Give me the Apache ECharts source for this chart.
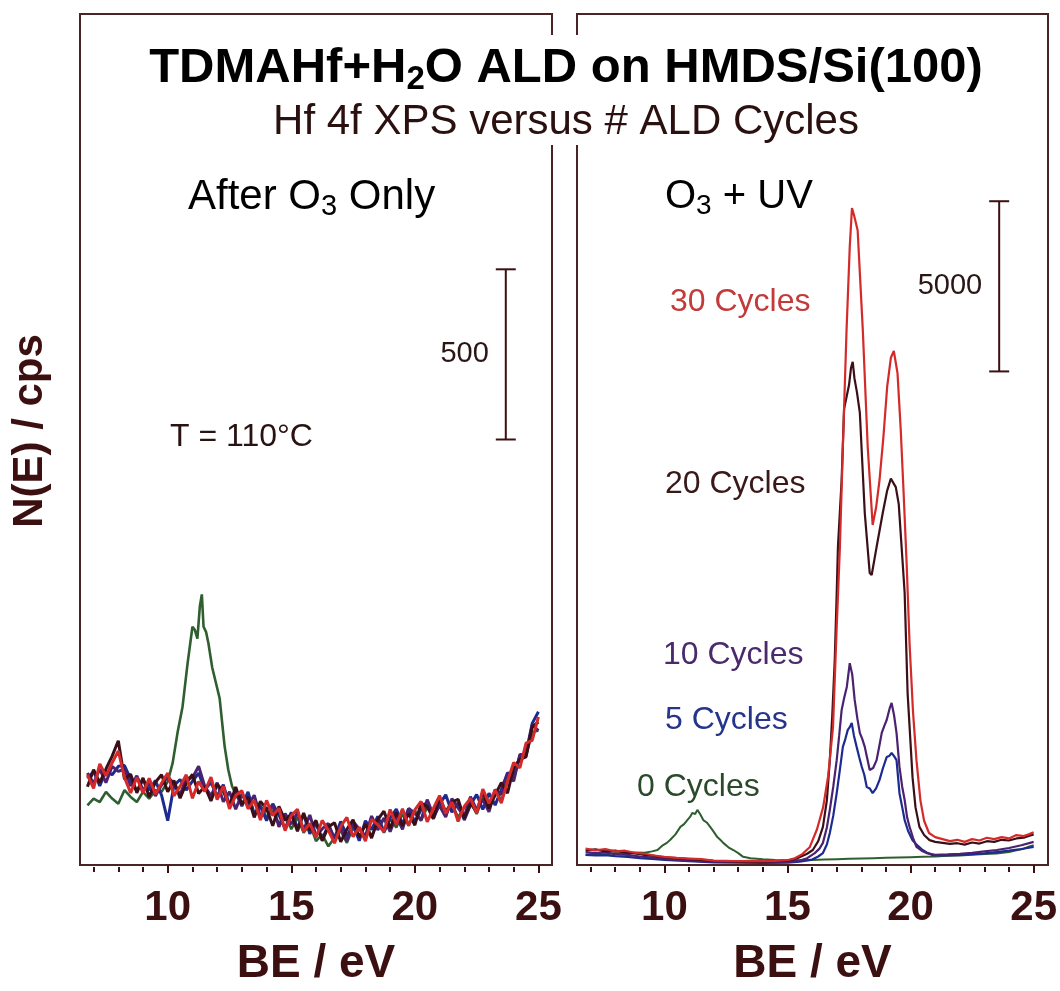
<!DOCTYPE html>
<html><head><meta charset="utf-8">
<script src="https://cdn.jsdelivr.net/npm/echarts@6/dist/echarts.min.js"></script>
<style>html,body{margin:0;padding:0;background:#fff}#c{width:1060px;height:991px}</style>
</head><body><div id="c"></div><script>
// ---------- data ----------
const majorTicks = [10, 15, 20, 25];
const minorTicks = [7, 8, 9, 11, 12, 13, 14, 16, 17, 18, 19, 21, 22, 23, 24];

// Left panel: After O3 only (cps)
const leftX = [6.75,7,7.25,7.5,7.75,8,8.25,8.5,8.75,9,9.25,9.5,9.75,10,10.25,10.5,10.75,11,11.25,11.5,11.75,12,12.25,12.5,12.75,13,13.25,13.5,13.75,14,14.25,14.5,14.75,15,15.25,15.5,15.75,16,16.25,16.5,16.75,17,17.25,17.5,17.75,18,18.25,18.5,18.75,19,19.25,19.5,19.75,20,20.25,20.5,20.75,21,21.25,21.5,21.75,22,22.25,22.5,22.75,23,23.25,23.5,23.75,24,24.25,24.5,24.75,25];
const leftRed = [265,225,297,262,300,335,257,212,257,211,255,208,240,270,203,231,265,196,245,216,258,192,231,165,204,218,165,190,132,190,145,167,101,145,164,98,122,81,131,102,64,113,140,83,111,70,134,118,98,163,119,165,116,162,187,127,166,204,151,185,128,172,196,152,223,181,221,182,246,301,285,358,366,435];
const leftMaroon = [230,280,242,282,320,365,252,267,212,256,200,243,265,215,248,196,240,266,210,231,188,237,216,175,229,178,200,140,187,165,115,172,131,150,99,153,102,131,71,112,124,68,105,133,81,120,79,133,158,108,154,115,151,117,182,172,136,199,156,185,193,137,181,157,213,166,206,242,211,286,310,318,406,420];
const leftPurple = [270,240,282,242,290,275,282,232,262,221,240,203,235,260,238,206,255,256,290,231,203,242,186,215,164,208,175,205,142,165,175,112,151,120,154,103,147,86,106,122,74,108,70,128,106,85,144,103,138,98,144,105,166,152,132,192,146,174,141,195,168,142,201,162,193,156,221,207,266,246,325,323,411,395];
const leftBlue = [255,275,232,277,265,290,292,252,217,251,220,248,205,130,233,251,220,246,270,221,243,202,236,175,214,173,215,150,172,130,180,147,106,155,109,148,92,121,76,117,79,128,85,118,71,130,104,143,98,138,164,120,166,127,162,187,136,179,206,155,183,132,176,207,163,211,176,222,271,261,320,328,416,450];
const leftGreenX = [6.75,7,7.25,7.5,7.75,8,8.25,8.5,8.75,9,9.25,9.5,9.75,10,10.2,10.4,10.6,10.8,11,11.1,11.2,11.3,11.38,11.45,11.55,11.65,11.8,12,12.1,12.2,12.3,12.45,12.6,12.8,13,13.25,13.5,13.75,14,14.25,14.5,14.75,15,15.25,15.5,15.75,16,16.25,16.5,16.75,17,17.25,17.5,17.75,18,18.25,18.5,18.75,19,19.25,19.5,19.75,20,20.25,20.5,20.75,21,21.25,21.5,21.75,22,22.25,22.5,22.75,23,23.25,23.5,23.75,24,24.25,24.5,24.75,25];
const leftGreen = [175,195,185,215,195,180,220,200,185,215,195,220,215,245,300,390,465,590,700,690,665,760,795,700,685,650,580,520,490,420,350,280,232,200,185,190,150,175,140,160,120,150,105,140,95,120,70,90,55,80,100,65,110,80,120,85,125,95,135,110,150,115,160,130,170,145,185,150,180,140,170,185,150,195,165,220,190,245,255,320,320,390,395];

// Right panel: O3 + UV (cps)
const c30X = [6.8,7.2,7.6,8.0,8.4,8.8,9.2,9.6,10.0,10.5,11,11.5,12,12.5,13,13.5,14,14.5,15,15.3,15.6,15.9,16.2,16.45,16.65,16.85,17.0,17.13,17.25,17.4,17.53,17.62,17.7,17.85,18.06,18.26,18.46,18.6,18.74,18.9,19.05,19.2,19.32,19.47,19.6,19.72,19.84,19.96,20.1,20.24,20.4,20.55,20.75,21.0,21.3,21.6,21.9,22.2,22.5,22.8,23.1,23.4,23.7,24.0,24.3,24.6,24.8,25.0];
const c30Y = [480,430,470,400,420,360,330,280,240,210,190,170,130,120,110,120,110,120,140,200,320,520,1050,1700,2600,4050,6990,9340,12280,15720,18160,19300,19100,18650,15720,12280,9990,10500,11310,12600,14050,14900,15100,14450,12800,10900,8870,6500,4500,3080,1900,1300,940,820,760,700,740,680,760,720,800,760,820,780,880,850,900,960];
const c20X = [6.8,7.2,7.6,8.0,8.4,8.8,9.2,9.6,10.0,10.5,11,11.5,12,12.5,13,13.5,14,14.5,15,15.4,15.8,16.03,16.25,16.44,16.6,16.72,16.82,16.92,17.0,17.05,17.2,17.3,17.4,17.5,17.58,17.65,17.72,17.82,17.94,18.14,18.34,18.42,18.62,18.87,19.05,19.2,19.28,19.4,19.52,19.68,19.76,19.88,20.08,20.2,20.36,20.55,20.77,21.0,21.3,21.6,21.9,22.2,22.5,22.8,23.1,23.4,23.7,24.0,24.3,24.6,24.8,25.0];
const c20Y = [430,460,400,420,370,340,300,270,220,200,170,150,120,110,100,105,100,110,130,200,330,440,700,1120,1900,3080,4400,6020,7990,9340,11310,13400,13750,14100,14600,14780,14300,13900,13280,10340,8580,8520,9340,10340,11000,11350,11400,11100,10600,8870,7990,5050,2580,1700,1120,880,730,680,650,620,640,600,660,630,700,680,740,720,780,800,850,900];
const c10X = [6.8,7.2,7.6,8.0,8.5,9.0,9.5,10,11,12,13,14,15,15.5,15.8,16.11,16.3,16.44,16.6,16.72,16.86,17.0,17.1,17.2,17.3,17.41,17.53,17.63,17.73,17.84,17.94,18.04,18.14,18.25,18.34,18.48,18.62,18.72,18.83,18.93,19.03,19.15,19.23,19.33,19.43,19.55,19.66,19.76,19.86,19.96,20.1,20.24,20.45,20.65,21,21.5,22,22.5,23,23.5,24,24.5,25];
const c10Y = [380,350,370,320,300,250,220,180,130,100,90,80,90,130,200,350,480,650,1100,1620,2300,3080,3800,4550,4900,5230,5930,5600,4850,4300,3880,3700,3470,3100,2790,2850,3080,3450,3880,4080,4260,4600,4760,4400,3880,2880,2300,1910,1400,1120,800,530,420,350,300,310,330,360,400,440,500,580,680];
const c5X = [6.8,7.2,7.6,8.0,8.5,9.0,9.5,10,11,12,13,14,15,15.5,16.0,16.25,16.44,16.6,16.72,16.86,17.0,17.12,17.25,17.35,17.45,17.53,17.61,17.7,17.81,17.92,18.02,18.12,18.22,18.34,18.46,18.6,18.74,18.88,19.03,19.13,19.23,19.33,19.43,19.55,19.66,19.76,19.9,20.08,20.3,20.49,20.7,20.9,21.5,22,22.5,23,23.5,24,24.5,25];
const c5Y = [300,280,290,260,240,200,180,150,110,80,70,60,70,100,160,250,350,600,940,1450,2110,2750,3470,3700,3970,4050,4170,3800,3470,3150,2880,2650,2290,2250,2110,2250,2500,2850,3170,3200,3290,3200,3080,2110,1700,1320,1000,730,560,440,350,290,280,300,320,340,380,420,470,530];
const c0X = [6.8,7.2,7.6,8.0,8.4,8.8,9.2,9.5,9.72,9.9,10.1,10.24,10.45,10.65,10.8,10.93,11.05,11.13,11.25,11.34,11.45,11.58,11.72,11.86,12.0,12.15,12.27,12.39,12.6,12.8,13.0,13.2,13.5,14,14.5,15,15.5,16,16.5,17,17.5,18,18.5,19,19.5,20,20.5,21,21.5,22,22.5,23,23.5,24,24.3,24.6,24.8,25];
const c0Y = [300,330,310,350,340,370,360,400,440,560,650,740,900,1120,1200,1320,1420,1530,1500,1620,1500,1320,1250,1120,980,820,740,650,520,440,350,240,200,170,150,140,140,150,160,170,180,190,200,210,220,230,240,250,270,280,300,320,340,380,430,480,540,580];

// scale bars [x (eV), from (cps), to (cps), label]
const scaleLeft = [23.68, 1250, 1750, '500'];
const scaleRight = [23.6, 14500, 19500, '5000'];

// ---------- styles ----------
const SANS = '"Liberation Sans", Arial, Helvetica, sans-serif';
const NARROW = '"Liberation Sans Narrow", "Liberation Sans", Arial, sans-serif';
const INK = '#2b0b0b';
const AX = '#3c1010';
const FRAME = '#4a2424';
const COL = {green:'#2f5e2f', blue:'#1c2b8f', purple:'#4a2270', maroon:'#3b0f18', red:'#d42a2a'};
const XMIN = 6.45, XMAX = 25.55;
const TOP = 14, H = 851, LA = 80, WA = 472, LB = 577, WB = 471;

function zip(xs, ys){ return xs.map((x,i)=>[x, ys[i]]); }

function majorAxis(g){
  return {type:'value', gridIndex:g, position:'bottom', min:XMIN, max:XMAX, offset:2,
    axisLine:{show:false}, splitLine:{show:false},
    axisTick:{show:true, customValues:majorTicks, length:8, lineStyle:{color:AX, width:2}},
    axisLabel:{customValues:majorTicks, margin:20, color:AX, fontFamily:NARROW, fontWeight:'bold', fontSize:42}};
}
function minorAxis(g){
  return {type:'value', gridIndex:g, position:'bottom', min:XMIN, max:XMAX, offset:2,
    axisLine:{show:false}, splitLine:{show:false},
    axisTick:{show:true, customValues:minorTicks, length:5, lineStyle:{color:AX, width:2}},
    axisLabel:{show:false}};
}
function line(name, xs, ys, color, xi, yi, w){
  return {type:'line', name, data:zip(xs, ys), xAxisIndex:xi, yAxisIndex:yi, showSymbol:false, symbol:'none',
    lineStyle:{color, width:w}, itemStyle:{color}, silent:true};
}
function scaleBar(bar, xi, yi){
  return {type:'custom', xAxisIndex:xi, yAxisIndex:yi, silent:true, data:[bar],
    renderItem:(p, api)=>{
      const a = api.coord([api.value(0), api.value(1)]);
      const b = api.coord([api.value(0), api.value(2)]);
      const st = {stroke:AX, lineWidth:2};
      return {type:'group', children:[
        {type:'line', shape:{x1:a[0], y1:a[1], x2:b[0], y2:b[1]}, style:st},
        {type:'line', shape:{x1:a[0]-10, y1:a[1], x2:a[0]+10, y2:a[1]}, style:st},
        {type:'line', shape:{x1:b[0]-10, y1:b[1], x2:b[0]+10, y2:b[1]}, style:st},
        {type:'text', x:a[0]-17, y:(a[1]+b[1])/2, style:{text:bar[3], fill:'#2b1515', font:'29px '+SANS, align:'right', verticalAlign:'middle'}}
      ]};
    }};
}
function txt(x, y, text, size, color, opts){
  return {type:'text', x, y, style:Object.assign({text, fill:color, font:size+'px '+SANS, align:'left', verticalAlign:'middle'}, opts||{})};
}
function subText(x, y, parts, size, subSize, color, weight, align){
  const w = weight || 'normal';
  return {type:'text', x, y, style:{text:parts, align:align||'center', verticalAlign:'middle',
    rich:{a:{fontFamily:SANS, fontSize:size, fontWeight:w, color, lineHeight:Math.round(size*1.15), verticalAlign:'middle'},
          s:{fontFamily:SANS, fontSize:subSize, fontWeight:w, color, lineHeight:Math.round(subSize*0.75), verticalAlign:'bottom'}}}};
}

const R = LA + WA, L2 = LB, R2 = LB + WB, B = TOP + H;
const frameStyle = {stroke:FRAME, lineWidth:2, fill:null};

const option = {
  animation:false,
  backgroundColor:'#fff',
  grid:[{left:LA, top:TOP, width:WA, height:H}, {left:LB, top:TOP, width:WB, height:H}],
  xAxis:[majorAxis(0), minorAxis(0), majorAxis(1), minorAxis(1)],
  yAxis:[{type:'value', gridIndex:0, min:0, max:2500, show:false},
         {type:'value', gridIndex:1, min:0, max:25000, show:false}],
  series:[
    line('L green', leftGreenX, leftGreen, COL.green, 0, 0, 2.6),
    line('L blue', leftX, leftBlue, COL.blue, 0, 0, 3),
    line('L purple', leftX, leftPurple, COL.purple, 0, 0, 3),
    line('L maroon', leftX, leftMaroon, COL.maroon, 0, 0, 3),
    line('L red', leftX, leftRed, COL.red, 0, 0, 3),
    line('0 Cycles', c0X, c0Y, COL.green, 2, 1, 2),
    line('5 Cycles', c5X, c5Y, COL.blue, 2, 1, 2.2),
    line('10 Cycles', c10X, c10Y, COL.purple, 2, 1, 2.2),
    line('20 Cycles', c20X, c20Y, COL.maroon, 2, 1, 2.2),
    line('30 Cycles', c30X, c30Y, COL.red, 2, 1, 2.2),
    scaleBar(scaleLeft, 0, 0),
    scaleBar(scaleRight, 2, 1)
  ],
  graphic:[
    {type:'polyline', shape:{points:[[R,35],[R,TOP],[LA,TOP],[LA,B],[R,B],[R,145]]}, style:frameStyle, silent:true},
    {type:'polyline', shape:{points:[[L2,35],[L2,TOP],[R2,TOP],[R2,B],[L2,B],[L2,145]]}, style:frameStyle, silent:true},
    subText(566, 68, '{a|TDMAHf+H}{s|2}{a|O ALD on HMDS/Si(100)}', 49, 33, INK, 'bold'),
    txt(566, 122, 'Hf 4f XPS versus # ALD Cycles', 42, '#2b1010', {align:'center'}),
    subText(188, 197, '{a|After O}{s|3}{a| Only}', 42, 29, '#2b1212', 'normal', 'left'),
    subText(665, 197, '{a|O}{s|3}{a| + UV}', 40, 28, '#2b1212', 'normal', 'left'),
    txt(170, 437, 'T = 110°C', 32, '#2b1212'),
    txt(670, 302, '30 Cycles', 32, '#c23a3a'),
    txt(665, 484, '20 Cycles', 32, '#3a1818'),
    txt(663, 655, '10 Cycles', 32, '#4b2a6c'),
    txt(665, 720, '5 Cycles', 32, '#25358c'),
    txt(637, 787, '0 Cycles', 32, '#2b4a2b'),
    {type:'text', x:30, y:431, rotation:Math.PI/2, style:{text:'N(E) / cps', fill:AX, font:'bold 42px '+SANS, align:'center', verticalAlign:'middle'}},
    {type:'text', x:(LA+R)/2, y:964, style:{text:'BE / eV', fill:AX, font:'bold 46px '+NARROW, align:'center', verticalAlign:'middle'}},
    {type:'text', x:(L2+R2)/2, y:964, style:{text:'BE / eV', fill:AX, font:'bold 46px '+NARROW, align:'center', verticalAlign:'middle'}}
  ]
};
const chart = echarts.init(document.getElementById('c'), null, {renderer:'canvas'});
chart.setOption(option);
</script></body></html>
